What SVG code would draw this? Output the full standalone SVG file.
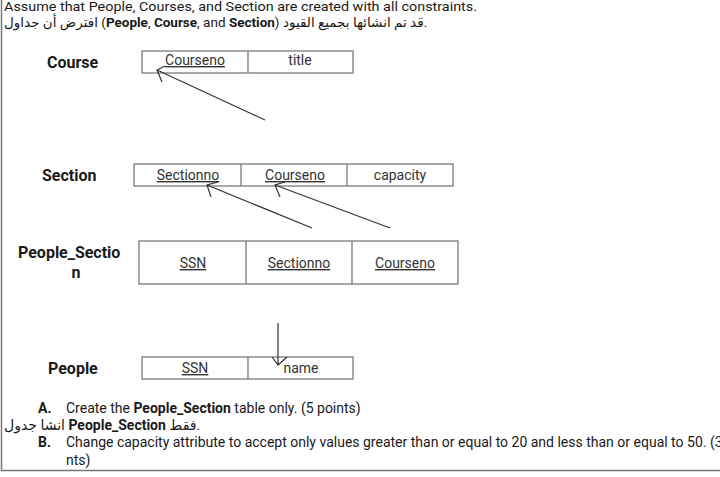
<svg xmlns="http://www.w3.org/2000/svg" width="720" height="477" viewBox="0 0 720 477">
<style>
text{font-family:Roboto,"DejaVu Sans",sans-serif;fill:#1a1a1a}
.hd{font-size:13.5px}
.lbl{font-size:16px;font-weight:bold}
.cell{font-size:14px;text-anchor:middle;fill:#333}
.u{text-decoration:underline}
.tbl{fill:none;stroke:#7a7a7a;stroke-width:1.3}
.conn{fill:none;stroke:#333;stroke-width:1.2}
.b{font-weight:bold}
.q{font-size:14px}
</style>
<rect width="720" height="477" fill="#fff"/>
<path d="M1.5 0 V470.5 H720" fill="none" stroke="#777" stroke-width="1.5"/>
<text class="hd" x="4" y="11" textLength="473" lengthAdjust="spacingAndGlyphs">Assume that People, Courses, and Section are created with all constraints.</text>
<text class="hd" x="4" y="27">افترض أن جداول (<tspan class="b">People</tspan>, <tspan class="b">Course</tspan>, and <tspan class="b">Section</tspan>) قد تم انشائها بجميع القيود.</text>

<g id="course">
<text class="lbl" x="47" y="68">Course</text>
<rect class="tbl" x="142" y="51" width="211" height="22"/>
<line class="tbl" x1="248" y1="51" x2="248" y2="73"/>
<text class="cell u" x="195" y="65">Courseno</text>
<text class="cell" x="300" y="65">title</text>
</g>
<g id="section">
<text class="lbl" x="42" y="181">Section</text>
<rect class="tbl" x="134" y="164" width="319" height="22"/>
<line class="tbl" x1="241" y1="164" x2="241" y2="186"/>
<line class="tbl" x1="347" y1="164" x2="347" y2="186"/>
<text class="cell u" x="188" y="180">Sectionno</text>
<text class="cell u" x="295" y="180">Courseno</text>
<text class="cell" x="400" y="180">capacity</text>
</g>
<g id="people_section">
<text class="lbl" x="18" y="258">People_Sectio</text>
<text class="lbl" x="76" y="278" text-anchor="middle">n</text>
<rect class="tbl" x="139" y="241" width="319" height="43"/>
<line class="tbl" x1="246" y1="241" x2="246" y2="284"/>
<line class="tbl" x1="352" y1="241" x2="352" y2="284"/>
<text class="cell u" x="193" y="268">SSN</text>
<text class="cell u" x="299" y="268">Sectionno</text>
<text class="cell u" x="405" y="268">Courseno</text>
</g>
<g id="people">
<text class="lbl" x="48" y="374">People</text>
<rect class="tbl" x="142" y="357" width="211" height="22"/>
<line class="tbl" x1="248" y1="357" x2="248" y2="379"/>
<text class="cell u" x="195" y="373">SSN</text>
<text class="cell" x="301" y="373">name</text>
</g>
<g id="connectors">
<path class="conn" d="M265 120 L157 70 M165 66 L157 70 L162 82"/>
<path class="conn" d="M312 228 L207 185 M218 182 L207 185 L211 197"/>
<path class="conn" d="M390 228 L275 185 M285 182 L275 185 L280 197"/>
<path class="conn" d="M278 323 L278 365 M272 357 L278 365 L287 357"/>
</g>
<g id="questions">
<text class="q b" x="38" y="413">A.</text>
<text class="q" x="66" y="413">Create the <tspan class="b">People_Section</tspan> table only. (5 points)</text>
<text class="q" x="4" y="430">انشا جدول <tspan class="b">People_Section</tspan> فقط.</text>
<text class="q b" x="38" y="447">B.</text>
<text class="q" x="66" y="447">Change capacity attribute to accept only values greater than or equal to 20 and less than or equal to 50. (3</text>
<text class="q" x="66" y="465">nts)</text>
</g>
</svg>
